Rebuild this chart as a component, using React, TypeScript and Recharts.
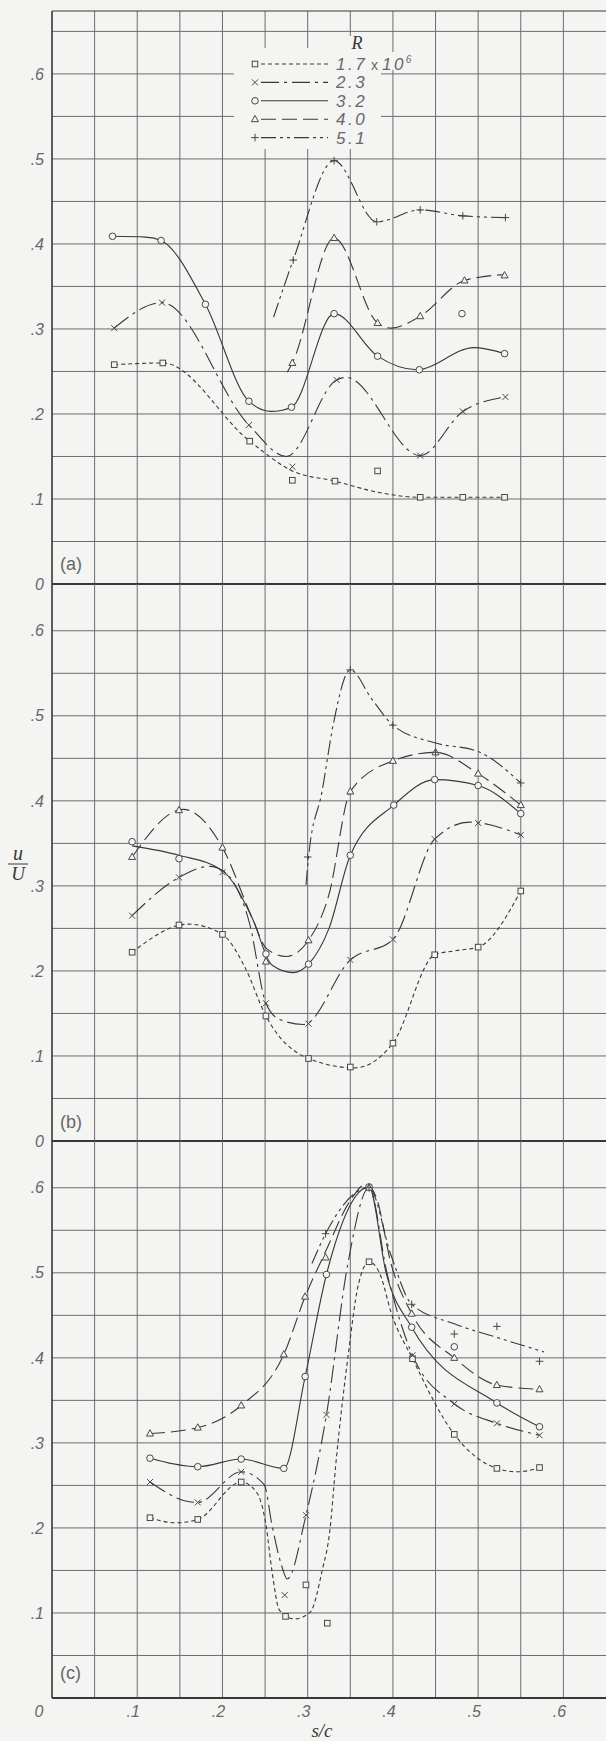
import React from 'react';
import { ComposedChart, Line, Scatter, XAxis, YAxis, CartesianGrid, ReferenceLine, Legend } from 'recharts';

type P = [number, number];

// ---------- series metadata ----------
const reynolds = ['1.7', '2.3', '3.2', '4.0', '5.1'];
const markerKinds = ['square', 'x', 'circle', 'triangle', 'plus'];
const dashes = ['4 3', '18 5 3 5', '', '15 6', '15 4 3 4 3 4'];

// ---------- axis ticks ----------
const xTicks = [0, 0.1, 0.2, 0.3, 0.4, 0.5, 0.6];
const xGrid = [0.05, 0.1, 0.15, 0.2, 0.25, 0.3, 0.35, 0.4, 0.45, 0.5, 0.55, 0.6];
const yTicks = [0, 0.05, 0.1, 0.15, 0.2, 0.25, 0.3, 0.35, 0.4, 0.45, 0.5, 0.55, 0.6, 0.65];
const yGridA = [0.05, 0.1, 0.15, 0.2, 0.25, 0.3, 0.35, 0.4, 0.45, 0.5, 0.55, 0.6, 0.65];
const yGridBC = [0.05, 0.1, 0.15, 0.2, 0.25, 0.3, 0.35, 0.4, 0.45, 0.5, 0.55, 0.6];

// ---------- panel (a) ----------
const aSq: P[] = [[0.073, 0.258], [0.130, 0.260], [0.232, 0.168], [0.282, 0.122], [0.332, 0.121], [0.382, 0.133], [0.432, 0.102], [0.482, 0.102], [0.531, 0.102]];
const aSqCurve: P[] = [[0.073, 0.258], [0.130, 0.260], [0.232, 0.168], [0.282, 0.133], [0.332, 0.121], [0.382, 0.108], [0.432, 0.102], [0.482, 0.102], [0.531, 0.102]];
const aX: P[] = [[0.073, 0.301], [0.129, 0.331], [0.231, 0.187], [0.282, 0.138], [0.334, 0.240], [0.432, 0.151], [0.482, 0.203], [0.532, 0.220]];
const aXCurve: P[] = [[0.073, 0.301], [0.129, 0.331], [0.231, 0.187], [0.275, 0.150], [0.334, 0.240], [0.345, 0.243], [0.432, 0.151], [0.482, 0.203], [0.532, 0.220]];
const aO: P[] = [[0.071, 0.409], [0.128, 0.404], [0.180, 0.329], [0.231, 0.215], [0.281, 0.208], [0.331, 0.318], [0.382, 0.268], [0.431, 0.252], [0.481, 0.318], [0.531, 0.271]];
const aOCurve: P[] = [[0.071, 0.409], [0.110, 0.408], [0.128, 0.404], [0.180, 0.329], [0.231, 0.215], [0.257, 0.203], [0.281, 0.208], [0.331, 0.318], [0.382, 0.268], [0.428, 0.252], [0.495, 0.278], [0.531, 0.271]];
const aTri: P[] = [[0.282, 0.260], [0.331, 0.407], [0.382, 0.307], [0.432, 0.315], [0.484, 0.357], [0.531, 0.363]];
const aTriCurve: P[] = [[0.276, 0.249], [0.282, 0.260], [0.331, 0.407], [0.382, 0.307], [0.398, 0.301], [0.432, 0.315], [0.484, 0.357], [0.531, 0.364]];
const aPlus: P[] = [[0.283, 0.381], [0.331, 0.498], [0.381, 0.426], [0.432, 0.440], [0.482, 0.433], [0.532, 0.431]];
const aPlusCurve: P[] = [[0.260, 0.314], [0.283, 0.381], [0.331, 0.498], [0.381, 0.426], [0.432, 0.440], [0.482, 0.433], [0.532, 0.431]];

// ---------- panel (b) ----------
const bSq: P[] = [[0.094, 0.222], [0.149, 0.254], [0.200, 0.243], [0.251, 0.147], [0.301, 0.097], [0.350, 0.087], [0.400, 0.115], [0.449, 0.219], [0.500, 0.228], [0.550, 0.294]];
const bSqCurve: P[] = [[0.094, 0.222], [0.160, 0.255], [0.200, 0.243], [0.226, 0.205], [0.251, 0.147], [0.301, 0.097], [0.355, 0.086], [0.400, 0.115], [0.449, 0.219], [0.475, 0.224], [0.500, 0.228], [0.550, 0.294]];
const bX: P[] = [[0.094, 0.265], [0.149, 0.310], [0.200, 0.316], [0.251, 0.162], [0.301, 0.138], [0.350, 0.213], [0.400, 0.237], [0.449, 0.355], [0.500, 0.374], [0.550, 0.360]];
const bXCurve: P[] = [[0.094, 0.265], [0.149, 0.310], [0.185, 0.323], [0.200, 0.318], [0.232, 0.255], [0.251, 0.162], [0.267, 0.143], [0.295, 0.137], [0.350, 0.213], [0.400, 0.237], [0.449, 0.355], [0.490, 0.375], [0.550, 0.360]];
const bO: P[] = [[0.094, 0.352], [0.149, 0.332], [0.251, 0.220], [0.301, 0.208], [0.350, 0.336], [0.401, 0.395], [0.449, 0.425], [0.500, 0.418], [0.550, 0.385]];
const bOCurve: P[] = [[0.094, 0.347], [0.149, 0.336], [0.200, 0.318], [0.235, 0.262], [0.258, 0.207], [0.283, 0.198], [0.301, 0.208], [0.325, 0.250], [0.350, 0.336], [0.401, 0.395], [0.449, 0.425], [0.500, 0.418], [0.550, 0.385]];
const bTri: P[] = [[0.094, 0.334], [0.149, 0.389], [0.200, 0.345], [0.251, 0.211], [0.301, 0.236], [0.350, 0.411], [0.400, 0.447], [0.450, 0.457], [0.500, 0.432], [0.550, 0.395]];
const bTriCurve: P[] = [[0.094, 0.334], [0.154, 0.390], [0.200, 0.345], [0.235, 0.262], [0.252, 0.226], [0.275, 0.217], [0.301, 0.236], [0.325, 0.290], [0.350, 0.411], [0.400, 0.447], [0.450, 0.457], [0.500, 0.432], [0.550, 0.395]];
const bPlus: P[] = [[0.300, 0.334], [0.350, 0.554], [0.400, 0.489], [0.450, 0.457], [0.550, 0.421]];
const bPlusCurve: P[] = [[0.298, 0.301], [0.301, 0.334], [0.317, 0.412], [0.330, 0.490], [0.350, 0.554], [0.375, 0.520], [0.400, 0.489], [0.450, 0.468], [0.500, 0.458], [0.550, 0.421]];

// ---------- panel (c) ----------
const cSq: P[] = [[0.115, 0.212], [0.171, 0.210], [0.222, 0.254], [0.274, 0.096], [0.298, 0.133], [0.323, 0.088], [0.372, 0.513], [0.423, 0.399], [0.472, 0.310], [0.522, 0.270], [0.572, 0.271]];
const cSqCurve: P[] = [[0.115, 0.212], [0.145, 0.206], [0.171, 0.210], [0.222, 0.254], [0.240, 0.242], [0.251, 0.204], [0.258, 0.150], [0.267, 0.103], [0.285, 0.093], [0.303, 0.101], [0.317, 0.150], [0.326, 0.197], [0.333, 0.275], [0.348, 0.407], [0.359, 0.484], [0.372, 0.513], [0.385, 0.498], [0.398, 0.453], [0.423, 0.399], [0.472, 0.310], [0.522, 0.270], [0.547, 0.266], [0.572, 0.271]];
const cX: P[] = [[0.115, 0.254], [0.171, 0.230], [0.222, 0.266], [0.273, 0.121], [0.298, 0.215], [0.322, 0.333], [0.372, 0.600], [0.423, 0.403], [0.472, 0.346], [0.522, 0.323], [0.572, 0.309]];
const cXCurve: P[] = [[0.115, 0.254], [0.160, 0.231], [0.171, 0.230], [0.222, 0.266], [0.249, 0.251], [0.258, 0.204], [0.269, 0.157], [0.276, 0.140], [0.298, 0.215], [0.322, 0.333], [0.347, 0.510], [0.372, 0.600], [0.393, 0.500], [0.423, 0.403], [0.472, 0.346], [0.522, 0.323], [0.572, 0.309]];
const cO: P[] = [[0.115, 0.282], [0.171, 0.272], [0.222, 0.281], [0.272, 0.270], [0.297, 0.378], [0.322, 0.498], [0.372, 0.601], [0.422, 0.436], [0.472, 0.413], [0.522, 0.347], [0.572, 0.319]];
const cOCurve: P[] = [[0.115, 0.282], [0.171, 0.272], [0.222, 0.281], [0.272, 0.270], [0.297, 0.378], [0.322, 0.498], [0.372, 0.601], [0.392, 0.500], [0.422, 0.436], [0.522, 0.347], [0.572, 0.319]];
const cTri: P[] = [[0.115, 0.311], [0.171, 0.318], [0.222, 0.344], [0.272, 0.404], [0.297, 0.472], [0.321, 0.518], [0.372, 0.600], [0.422, 0.452], [0.472, 0.400], [0.522, 0.368], [0.572, 0.363]];
const cTriCurve: P[] = [[0.115, 0.311], [0.171, 0.318], [0.222, 0.344], [0.272, 0.404], [0.297, 0.472], [0.321, 0.525], [0.350, 0.585], [0.368, 0.604], [0.380, 0.590], [0.398, 0.510], [0.422, 0.452], [0.472, 0.400], [0.522, 0.368], [0.572, 0.363]];
const cPlus: P[] = [[0.321, 0.546], [0.372, 0.600], [0.422, 0.463], [0.472, 0.428], [0.522, 0.437], [0.572, 0.396]];
const cPlusCurve: P[] = [[0.305, 0.511], [0.321, 0.546], [0.372, 0.600], [0.398, 0.520], [0.422, 0.463], [0.472, 0.440], [0.522, 0.424], [0.577, 0.407]];

const panelA = [[aSq, aSqCurve], [aX, aXCurve], [aO, aOCurve], [aTri, aTriCurve], [aPlus, aPlusCurve]];
const panelB = [[bSq, bSqCurve], [bX, bXCurve], [bO, bOCurve], [bTri, bTriCurve], [bPlus, bPlusCurve]];
const panelC = [[cSq, cSqCurve], [cX, cXCurve], [cO, cOCurve], [cTri, cTriCurve], [cPlus, cPlusCurve]];

// ---------- styling ----------
const BG = '#f4f4f2';
const INK = '#383838';
const MARK = '#484848';
const GRID = '#6c6c6c';
const LABEL = '#686868';
const SANS = "'Liberation Sans', Arial, sans-serif";
const SERIF = "'Liberation Serif', 'DejaVu Serif', serif";

const toData = (arr: P[]) => arr.map(([s, v]) => ({ s, v }));

const fmt = (v: number) => {
  const r = Math.round(v * 100);
  if (r % 10 !== 0) return '';
  return r === 0 ? '0' : '.' + r / 10;
};

function drawMarker(kind: string, cx: number, cy: number) {
  const st = { stroke: MARK, strokeWidth: 1, fill: BG };
  switch (kind) {
    case 'square':
      return <rect x={cx - 2.8} y={cy - 2.8} width={5.6} height={5.6} {...st} />;
    case 'circle':
      return <circle cx={cx} cy={cy} r={3.3} {...st} />;
    case 'triangle':
      return <path d={`M${cx},${cy - 3.8}L${cx + 3.5},${cy + 2.5}L${cx - 3.5},${cy + 2.5}Z`} {...st} />;
    case 'x':
      return <path d={`M${cx - 3},${cy - 3}L${cx + 3},${cy + 3}M${cx - 3},${cy + 3}L${cx + 3},${cy - 3}`} stroke={MARK} strokeWidth={1} fill="none" />;
    default:
      return <path d={`M${cx - 3.8},${cy}H${cx + 3.8}M${cx},${cy - 3.8}V${cy + 3.8}`} stroke={MARK} strokeWidth={1} fill="none" />;
  }
}

const tickStyle = { fill: LABEL, fontSize: 16, fontStyle: 'italic', fontFamily: SANS } as const;

const XTick = (props: any) => {
  const { x, y, payload } = props;
  const v = payload.value;
  const dx = v === 0 ? -13 : -4;
  return (
    <text x={x + dx} y={y} dy="0.71em" textAnchor="middle" {...tickStyle}>
      {fmt(v)}
    </text>
  );
};

const LegendBox = () => (
  <svg width={190} height={118} style={{ overflow: 'visible', display: 'block' }}>
    <rect x={0} y={14} width={147} height={101} fill={BG} />
    <rect x={100} y={2} width={38} height={16} fill={BG} />
    <text x={123} y={15} textAnchor="middle" fontFamily={SERIF} fontStyle="italic" fontSize={18} fill={INK}>R</text>
    {reynolds.map((r, i) => {
      const y = 30 + i * 18.4;
      return (
        <g key={r}>
          {i === 0 && <rect x={100} y={y - 12} width={82} height={18} fill={BG} />}
          <line x1={27} x2={94} y1={y} y2={y} stroke={INK} strokeWidth={1.1} strokeDasharray={dashes[i] || undefined} />
          {drawMarker(markerKinds[i], 21, y)}
          <text x={102} y={y + 6} fontFamily={SANS} fontStyle="italic" fontSize={17} letterSpacing={2.5} fill={LABEL}>
            {r}
            {i === 0 && (
              <>
                <tspan fontStyle="normal" fontSize={14} letterSpacing={0}> x </tspan>
                <tspan>10</tspan>
                <tspan dy={-7} fontSize={10} letterSpacing={0}>6</tspan>
              </>
            )}
          </text>
        </g>
      );
    })}
  </svg>
);

type PanelProps = {
  top: number;
  height: number;
  marginTop: number;
  marginBottom: number;
  yMax: number;
  yGrid: number[];
  series: P[][][];
  showX?: boolean;
  zeroLabel?: boolean;
  topBorder?: boolean;
  legend?: boolean;
};

function Panel(p: PanelProps) {
  const yFmt = (v: number) => (!p.zeroLabel && Math.abs(v) < 1e-9 ? '' : fmt(v));
  return (
    <div style={{ position: 'absolute', left: 0, top: p.top }}>
      <ComposedChart width={606} height={p.height} margin={{ top: p.marginTop, right: 0, bottom: p.marginBottom, left: 0 }}>
        <CartesianGrid stroke={GRID} strokeWidth={1} horizontalValues={p.yGrid} verticalValues={xGrid} />
        <XAxis
          type="number"
          dataKey="s"
          domain={[0, 0.65]}
          allowDataOverflow
          ticks={xTicks}
          interval={0}
          hide={!p.showX}
          height={43}
          axisLine={{ stroke: INK, strokeWidth: 2 }}
          tickLine={false}
          tick={<XTick />}
        />
        <YAxis
          type="number"
          dataKey="v"
          domain={[0, p.yMax]}
          allowDataOverflow
          ticks={yTicks}
          interval={0}
          width={52}
          tickFormatter={yFmt}
          axisLine={{ stroke: INK, strokeWidth: 1.6 }}
          tickLine={false}
          tick={tickStyle}
        />
        {p.topBorder && <ReferenceLine y={p.yMax} stroke={INK} strokeWidth={1.2} />}
        <ReferenceLine y={0} stroke={INK} strokeWidth={2} />
        {p.series.map(([, curve], i) => (
          <Line
            key={'l' + i}
            data={toData(curve)}
            dataKey="v"
            type="monotone"
            stroke={INK}
            strokeWidth={1.1}
            strokeDasharray={dashes[i] || undefined}
            dot={false}
            activeDot={false}
            isAnimationActive={false}
            legendType="none"
          />
        ))}
        {p.series.map(([marks], i) => (
          <Scatter
            key={'m' + i}
            data={toData(marks)}
            dataKey="v"
            isAnimationActive={false}
            legendType="none"
            shape={(sp: any) => drawMarker(markerKinds[i], sp.cx, sp.cy)}
          />
        ))}
        {p.legend && (
          <Legend
            layout="vertical"
            align="center"
            verticalAlign="middle"
            content={() => <LegendBox />}
            wrapperStyle={{ left: 234, top: 34, width: 190, height: 118 }}
          />
        )}
      </ComposedChart>
    </div>
  );
}

const Annotations = () => (
  <svg width={606} height={1741} style={{ position: 'absolute', left: 0, top: 0, pointerEvents: 'none' }}>
    <text x={60} y={570} fontFamily={SANS} fontSize={18} fill={LABEL}>(a)</text>
    <text x={60} y={1128} fontFamily={SANS} fontSize={18} fill={LABEL}>(b)</text>
    <text x={60} y={1679} fontFamily={SANS} fontSize={18} fill={LABEL}>(c)</text>
    <text x={18} y={860} textAnchor="middle" fontFamily={SERIF} fontStyle="italic" fontSize={20} fill={INK}>u</text>
    <line x1={8} x2={28} y1={864} y2={864} stroke={INK} strokeWidth={1} />
    <text x={18} y={880} textAnchor="middle" fontFamily={SERIF} fontStyle="italic" fontSize={19} fill={INK}>U</text>
    <text x={322} y={1737} textAnchor="middle" fontFamily={SERIF} fontStyle="italic" fontSize={19} fill={INK}>s/c</text>
  </svg>
);

export default function App() {
  return (
    <div style={{ position: 'absolute', left: 0, top: 0, width: 606, height: 1741, overflow: 'hidden', background: BG }}>
      <Panel top={0} height={596} marginTop={11} marginBottom={12} yMax={0.674} yGrid={yGridA} series={panelA} topBorder legend zeroLabel />
      <Panel top={584} height={569} marginTop={0} marginBottom={12} yMax={0.655} yGrid={yGridBC} series={panelB} zeroLabel />
      <Panel top={1141} height={600} marginTop={0} marginBottom={0} yMax={0.655} yGrid={yGridBC} series={panelC} showX />
      <Annotations />
    </div>
  );
}
